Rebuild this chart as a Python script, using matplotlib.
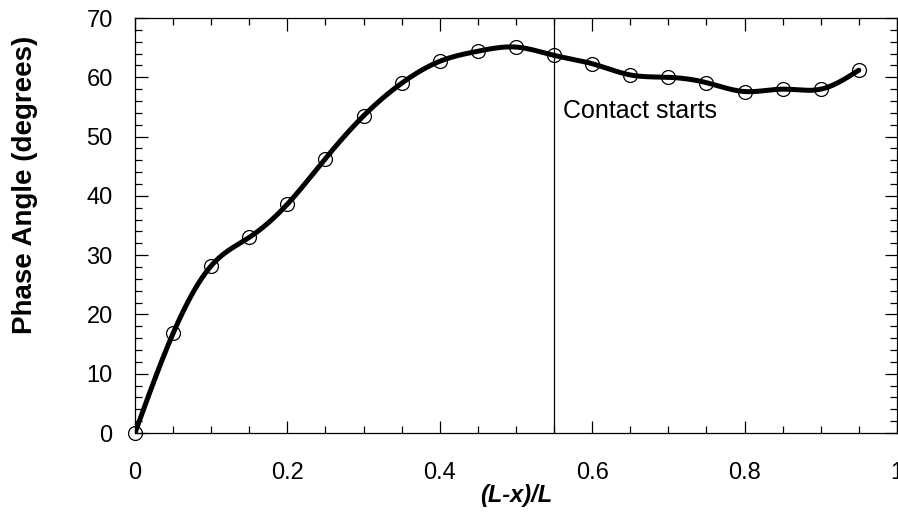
import numpy as np
import matplotlib
matplotlib.use("Agg")
import matplotlib.pyplot as plt
from matplotlib.ticker import MultipleLocator

plt.rcParams["font.family"] = ["Liberation Sans", "DejaVu Sans"]

position = [0.0, 0.05, 0.10, 0.15, 0.20, 0.25, 0.30, 0.35, 0.40, 0.45,
            0.50, 0.55, 0.60, 0.65, 0.70, 0.75, 0.80, 0.85, 0.90, 0.95]
phase_angle = [0.0, 16.8, 28.2, 33.0, 38.6, 46.3, 53.5, 59.0, 62.7, 64.4,
               65.1, 63.7, 62.3, 60.4, 60.0, 59.1, 57.6, 58.0, 58.0, 61.2]
contact_start = 0.55


def natural_spline(x, y, n_out=600):
    """Smooth curve through the points (natural cubic spline)."""
    x = np.asarray(x)
    y = np.asarray(y)
    n = len(x)
    h = np.diff(x)
    A = np.zeros((n, n))
    b = np.zeros(n)
    A[0, 0] = A[-1, -1] = 1.0
    for i in range(1, n - 1):
        A[i, i - 1] = h[i - 1]
        A[i, i] = 2 * (h[i - 1] + h[i])
        A[i, i + 1] = h[i]
        b[i] = 6 * ((y[i + 1] - y[i]) / h[i] - (y[i] - y[i - 1]) / h[i - 1])
    m = np.linalg.solve(A, b)
    xs = np.linspace(x[0], x[-1], n_out)
    idx = np.clip(np.searchsorted(x, xs) - 1, 0, n - 2)
    x0, x1 = x[idx], x[idx + 1]
    hh = x1 - x0
    t0, t1 = x1 - xs, xs - x0
    ys = (m[idx] * t0 ** 3 + m[idx + 1] * t1 ** 3) / (6 * hh) \
        + (y[idx] / hh - m[idx] * hh / 6) * t0 \
        + (y[idx + 1] / hh - m[idx + 1] * hh / 6) * t1
    return xs, ys


fig = plt.figure(figsize=(8.98, 5.15), dpi=100)
ax = fig.add_axes([0.1503, 0.1592, 0.8485, 0.8058])

xs, ys = natural_spline(position, phase_angle)
ax.plot(xs, ys, color="black", linewidth=3.6, solid_capstyle="round", zorder=3)
ax.plot(position, phase_angle, linestyle="none", marker="o", markersize=10,
        markerfacecolor="none", markeredgecolor="black", markeredgewidth=0.9,
        zorder=4, clip_on=False)

ax.axvline(contact_start, color="black", linewidth=0.9)
ax.text(contact_start + 0.012, 54.3, "Contact starts", fontsize=18,
        ha="left", va="center")

ax.set_xlim(0, 1)
ax.set_ylim(0, 70)
ax.xaxis.set_major_locator(MultipleLocator(0.2))
ax.xaxis.set_minor_locator(MultipleLocator(0.05))
ax.yaxis.set_major_locator(MultipleLocator(10))
ax.yaxis.set_minor_locator(MultipleLocator(2))
ax.xaxis.set_major_formatter(plt.FuncFormatter(lambda v, p: f"{v:g}"))

ax.tick_params(which="both", direction="in", top=True, right=True,
               labelsize=17, width=0.9)
ax.tick_params(axis="x", which="major", length=9, pad=21)
ax.tick_params(axis="x", which="minor", length=5)
ax.tick_params(axis="y", which="major", length=9, pad=16)
ax.tick_params(axis="y", which="minor", length=5)

for spine in ax.spines.values():
    spine.set_linewidth(0.9)

ax.set_xlabel("(L-x)/L", fontsize=17, fontweight="bold", style="italic")
ax.xaxis.set_label_coords(0.5, -0.122)
ax.set_ylabel("Phase Angle (degrees)", fontsize=20, fontweight="bold")
ax.yaxis.set_label_coords(-0.127, 0.598)

fig.savefig("out.png", dpi=100)
